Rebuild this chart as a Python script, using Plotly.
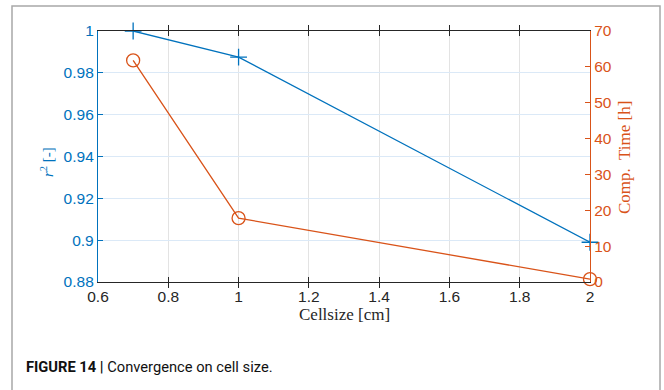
import plotly.graph_objects as go

cellsize = [0.7, 1.0, 2.0]
r2 = [1.0, 0.9875, 0.899]
comp_time = [61.8, 17.8, 0.8]

x_ticks = [0.6, 0.8, 1.0, 1.2, 1.4, 1.6, 1.8, 2.0]
x_ticklabels = ["0.6", "0.8", "1", "1.2", "1.4", "1.6", "1.8", "2"]
y_ticks = [0.88, 0.9, 0.92, 0.94, 0.96, 0.98, 1.0]
y_ticklabels = ["0.88", "0.9", "0.92", "0.94", "0.96", "0.98", "1"]
y2_ticks = [0, 10, 20, 30, 40, 50, 60, 70]

BLUE = "#0072BD"
RED = "#D95319"
W, H = 664, 390
L, R, T, B = 98, 590, 31, 282

def px(x):
    return (x - L) / (R - L)

def py(y):
    return (B - y) / (B - T)

fig = go.Figure()
fig.add_trace(go.Scatter(
    x=cellsize, y=r2, mode="lines+markers",
    line=dict(color=BLUE, width=1.3),
    marker=dict(symbol="cross-thin-open", size=12, line=dict(color=BLUE, width=1.3)),
    cliponaxis=False, showlegend=False))
fig.add_trace(go.Scatter(
    x=cellsize, y=comp_time, mode="lines+markers", yaxis="y2",
    line=dict(color=RED, width=1.3),
    marker=dict(symbol="circle-open", size=13, line=dict(color=RED, width=1.3)),
    cliponaxis=False, showlegend=False))

tickfont = dict(family="Liberation Sans, Arial, sans-serif", size=15.5)
serif = "Liberation Serif, Times New Roman, serif"
fig.update_layout(
    width=W, height=H,
    margin=dict(l=L, r=W - R, t=T, b=H - B),
    paper_bgcolor="white", plot_bgcolor="white",
    xaxis=dict(range=[0.6, 2.0], tickvals=x_ticks, ticktext=x_ticklabels,
               showgrid=True, gridcolor="#e3e3e3", gridwidth=1,
               showline=True, linecolor="#262626", linewidth=1.3, mirror="allticks",
               ticks="inside", ticklen=5, tickcolor="#262626",
               tickfont=dict(tickfont, color="#262626"), zeroline=False),
    yaxis=dict(range=[0.88, 1.0], tickvals=y_ticks, ticktext=y_ticklabels,
               showgrid=True, gridcolor="#dbe9f7", gridwidth=1.3,
               showline=True, linecolor=BLUE, linewidth=1.3,
               ticks="inside", ticklen=5, tickcolor=BLUE,
               tickfont=dict(tickfont, color=BLUE), zeroline=False),
    yaxis2=dict(range=[0, 70], tickvals=y2_ticks, overlaying="y", side="right",
                showgrid=False, showline=True, linecolor=RED, linewidth=1.3,
                ticks="inside", ticklen=5, tickcolor=RED,
                tickfont=dict(tickfont, color=RED), zeroline=False),
    shapes=[dict(type="rect", xref="paper", yref="paper",
                 x0=px(12), x1=px(660), y0=py(395), y1=py(6),
                 line=dict(color="#a8a8a8", width=1.5), layer="below")],
    annotations=[
        dict(text="Cellsize [cm]", xref="paper", yref="paper", x=0.5, y=py(314),
             xanchor="center", yanchor="middle", showarrow=False,
             font=dict(family=serif, size=17, color="#262626")),
        dict(text="<i>r</i><sup>2</sup> [-]", xref="paper", yref="paper", x=px(47), y=py(162),
             xanchor="center", yanchor="middle", showarrow=False, textangle=-90,
             font=dict(family=serif, size=15, color=BLUE)),
        dict(text="Comp.&nbsp; Time [h]", xref="paper", yref="paper", x=px(624), y=py(158),
             xanchor="center", yanchor="middle", showarrow=False, textangle=-90,
             font=dict(family=serif, size=17, color=RED)),
        dict(text="<b>FIGURE 14 |</b> Convergence on cell size.", xref="paper", yref="paper",
             x=px(24), y=py(367), xanchor="left", yanchor="middle", showarrow=False,
             font=dict(family="Roboto, Liberation Sans, sans-serif",
                       size=14.7, color="#111111")),
    ],
)

fig.write_html("out.html")
